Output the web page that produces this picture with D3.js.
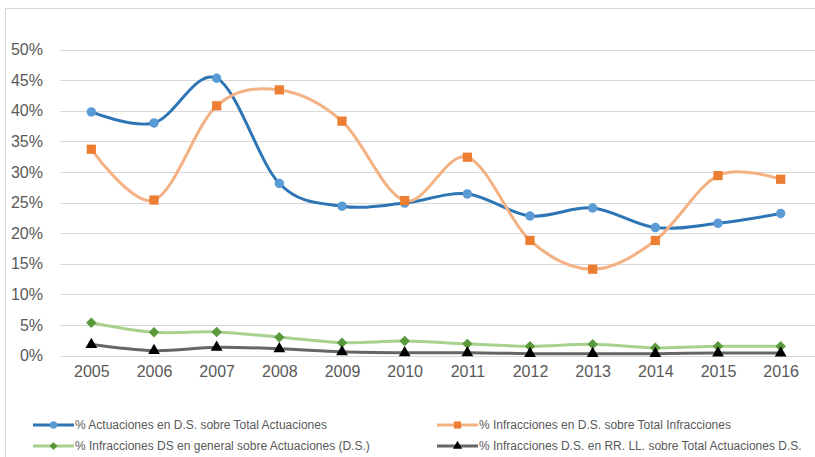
<!DOCTYPE html>
<html>
<head>
<meta charset="utf-8">
<script src="https://cdn.jsdelivr.net/npm/d3@7"></script>
<style>
  html, body { margin: 0; padding: 0; background: #fff; }
  svg { display: block; font-family: "Liberation Sans", Arial, sans-serif; }
</style>
</head>
<body>
<svg id="chart" width="815" height="457"></svg>
<script>
const years = ['2005','2006','2007','2008','2009','2010','2011','2012','2013','2014','2015','2016'];
const actuacionesDS = [39.8, 38.0, 45.3, 28.1, 24.4, 24.9, 26.4, 22.8, 24.1, 20.9, 21.6, 23.2];
const infraccionesDS = [33.7, 25.4, 40.8, 43.4, 38.3, 25.3, 32.4, 18.8, 14.1, 18.8, 29.4, 28.8];
const infraccionesGeneral = [5.36, 3.8, 3.85, 3.0, 2.1, 2.35, 1.9, 1.5, 1.85, 1.25, 1.5, 1.5];
const infraccionesRRLL = [1.8, 0.8, 1.35, 1.1, 0.6, 0.45, 0.45, 0.3, 0.3, 0.3, 0.4, 0.4];
const yTicks = [0, 5, 10, 15, 20, 25, 30, 35, 40, 45, 50];
const seriesNames = [
  '% Actuaciones en D.S. sobre Total Actuaciones',
  '% Infracciones en D.S. sobre Total Infracciones',
  '% Infracciones DS en general sobre Actuaciones (D.S.)',
  '% Infracciones D.S. en RR. LL. sobre Total Actuaciones D.S.'
];

const series = [
  {name: seriesNames[0], values: actuacionesDS, line: '#2e75b6', marker: '#5b9bd5', sym: d3.symbolCircle, size: 70, rot: 0},
  {name: seriesNames[1], values: infraccionesDS, line: '#f4b183', marker: '#ed7d31', sym: d3.symbolSquare, size: 85, rot: 0},
  {name: seriesNames[2], values: infraccionesGeneral, line: '#a9d18e', marker: '#5a9a3c', sym: d3.symbolSquare, size: 55, rot: 45},
  {name: seriesNames[3], values: infraccionesRRLL, line: '#666666', marker: '#000000', sym: d3.symbolTriangle, size: 60, rot: 0}
];

const svg = d3.select('#chart');

// chart border (right/bottom edges fall outside the picture)
svg.append('rect').attr('x', 5.5).attr('y', 8.5).attr('width', 830).attr('height', 470)
  .attr('fill', 'none').attr('stroke', '#d9d9d9').attr('stroke-width', 1);

const x = d3.scalePoint().domain(years).range([60, 812]).padding(0.5);
const y = d3.scaleLinear().domain([0, 50]).range([355.5, 49.5]);

// gridlines
svg.append('g').selectAll('line').data(yTicks).join('line')
  .attr('x1', 60).attr('x2', 815)
  .attr('y1', d => Math.round(y(d)) + 0.5).attr('y2', d => Math.round(y(d)) + 0.5)
  .attr('stroke', '#d9d9d9').attr('stroke-width', 1);

// y axis labels
const yAxis = d3.axisLeft(y).tickValues(yTicks).tickFormat(d => d + '%').tickSize(0).tickPadding(0);
const gy = svg.append('g').attr('transform', 'translate(43,0)').call(yAxis);
gy.select('.domain').remove();
gy.selectAll('text').attr('font-size', 16).attr('fill', '#595959')
  .attr('font-family', '"Liberation Sans", Arial, sans-serif');

// x axis labels
const xAxis = d3.axisBottom(x).tickSize(0).tickPadding(0);
const gx = svg.append('g').attr('transform', 'translate(0,366)').call(xAxis);
gx.select('.domain').remove();
gx.selectAll('text').attr('font-size', 16).attr('fill', '#595959')
  .attr('font-family', '"Liberation Sans", Arial, sans-serif');

const line = d3.line()
  .x((d, i) => x(years[i]))
  .y(d => y(d))
  .curve(d3.curveCatmullRom.alpha(0));

series.forEach(s => {
  const g = svg.append('g');
  g.append('path').attr('d', line(s.values))
    .attr('fill', 'none').attr('stroke', s.line).attr('stroke-width', 3)
    .attr('stroke-linejoin', 'round').attr('stroke-linecap', 'round');
  g.selectAll('path.m').data(s.values).join('path').attr('class', 'm')
    .attr('transform', (d, i) => `translate(${x(years[i])},${y(d)}) rotate(${s.rot})`)
    .attr('d', d3.symbol().type(s.sym).size(s.size))
    .attr('fill', s.marker);
});

// legend
const legendPos = [
  {x: 33, y: 425}, {x: 437, y: 425},
  {x: 33, y: 446}, {x: 437, y: 446}
];
series.forEach((s, i) => {
  const p = legendPos[i];
  const g = svg.append('g').attr('transform', `translate(${p.x},${p.y})`);
  g.append('line').attr('x1', 0).attr('x2', 41).attr('y1', 0).attr('y2', 0)
    .attr('stroke', s.line).attr('stroke-width', 3);
  g.append('path').attr('transform', `translate(20.5,0) rotate(${s.rot})`)
    .attr('d', d3.symbol().type(s.sym).size(s.size * 0.6)).attr('fill', s.marker);
  g.append('text').attr('x', 42).attr('y', 0).attr('dy', '0.35em')
    .attr('font-size', 12).attr('fill', '#595959').text(s.name);
});
</script>
</body>
</html>
